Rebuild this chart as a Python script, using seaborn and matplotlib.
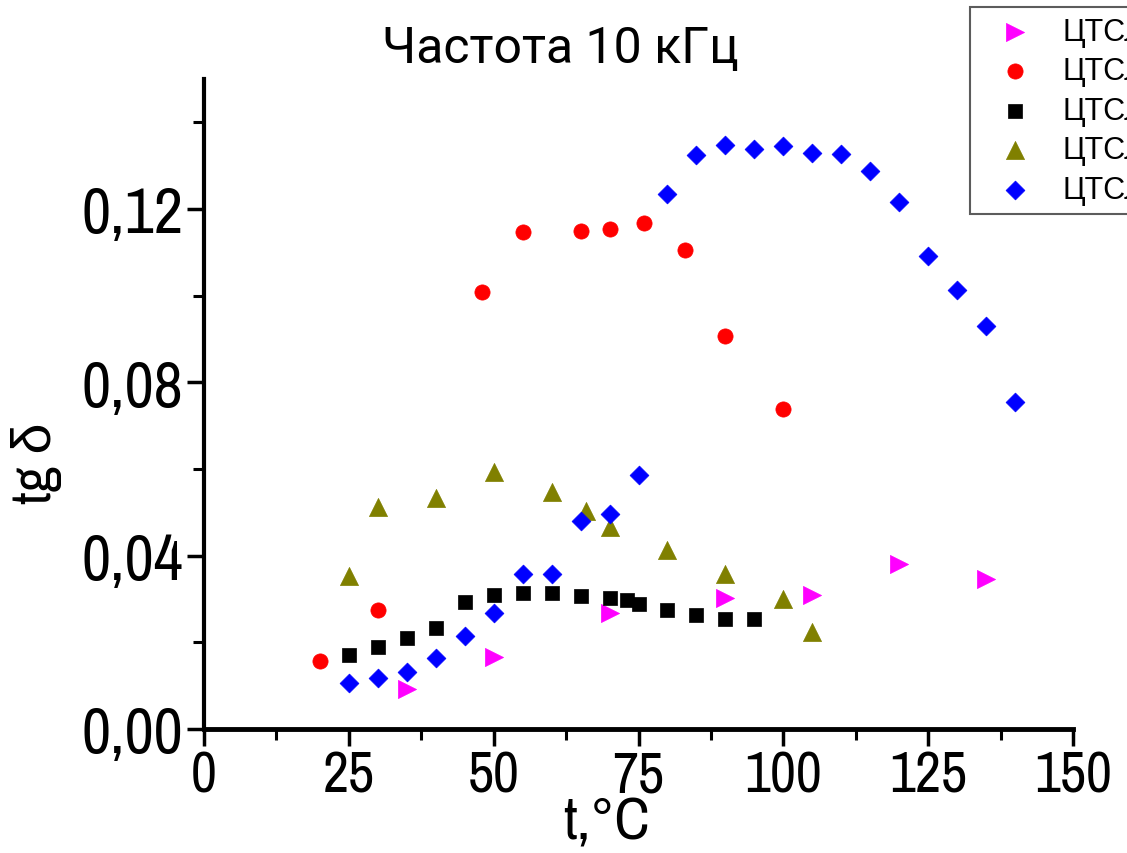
import matplotlib
matplotlib.use('Agg')
import matplotlib.pyplot as plt
import seaborn as sns
from matplotlib.ticker import MultipleLocator, FuncFormatter

# ---- data ----
series_labels = ['ЦТСЛ-1', 'ЦТСЛ-2', 'ЦТСЛ-3', 'ЦТСЛ-4', 'ЦТСЛ-5']

t_magenta = [35, 50, 70, 90, 105, 120, 135]
tg_magenta = [0.0092, 0.0166, 0.0268, 0.0302, 0.0309, 0.0380, 0.0347]

t_red = [20, 30, 48, 55, 65, 70, 76, 83, 90, 100]
tg_red = [0.0157, 0.0275, 0.1008, 0.1147, 0.1150, 0.1153, 0.1168, 0.1106, 0.0906, 0.0738]

t_black = [25, 30, 35, 40, 45, 50, 55, 60, 65, 70, 73, 75, 80, 85, 90, 95]
tg_black = [0.0170, 0.0190, 0.0210, 0.0232, 0.0293, 0.0310, 0.0313, 0.0313,
            0.0308, 0.0302, 0.0298, 0.0288, 0.0275, 0.0262, 0.0253, 0.0253]

t_olive = [25, 30, 40, 50, 60, 66, 70, 80, 90, 100, 105]
tg_olive = [0.0352, 0.0513, 0.0534, 0.0592, 0.0546, 0.0502, 0.0467, 0.0412, 0.0357, 0.0299, 0.0225]

t_blue = [25, 30, 35, 40, 45, 50, 55, 60, 65, 70, 75, 80, 85, 90, 95, 100,
          105, 110, 115, 120, 125, 130, 135, 140]
tg_blue = [0.0106, 0.0117, 0.0132, 0.0164, 0.0215, 0.0267, 0.0358, 0.0358,
           0.0481, 0.0497, 0.0587, 0.1234, 0.1324, 0.1348, 0.1339, 0.1346,
           0.1329, 0.1327, 0.1288, 0.1216, 0.1092, 0.1014, 0.0931, 0.0755]

x_ticks = [0, 25, 50, 75, 100, 125, 150]
y_ticks = [0.00, 0.04, 0.08, 0.12]

# ---- style ----
sns.set_theme(style='white')
plt.rcParams['font.family'] = ['Liberation Sans', 'DejaVu Sans']
for k in ['text.color', 'axes.labelcolor', 'xtick.color', 'ytick.color']:
    plt.rcParams[k] = 'black'

NARROW = ['Archivo Narrow', 'Liberation Sans', 'DejaVu Sans']

fig = plt.figure(figsize=(11.27, 8.54), dpi=100)
W, H = 1127, 854
ax = fig.add_axes([204 / W, 1 - 730 / H, (1073 - 204) / W, (730 - 80) / H])

styles = [
    (t_magenta, tg_magenta, '>', '#FF00FF', 170),
    (t_red, tg_red, 'o', '#FF0000', 120),
    (t_black, tg_black, 's', '#000000', 100),
    (t_olive, tg_olive, '^', '#808000', 170),
    (t_blue, tg_blue, 'D', '#0000FF', 92),
]
for lab, (xs, ys, mk, col, sz) in zip(series_labels, styles):
    sns.scatterplot(x=xs, y=ys, ax=ax, marker=mk, color=col, s=sz,
                    edgecolor=col, linewidth=0.5, label=lab, legend=False,
                    zorder=3)

ax.set_xlim(0, 150)
ax.set_ylim(0, 0.150)
ax.set_xticks(x_ticks)
ax.set_yticks(y_ticks)
ax.xaxis.set_minor_locator(MultipleLocator(12.5))
ax.yaxis.set_minor_locator(MultipleLocator(0.02))
ax.yaxis.set_major_formatter(FuncFormatter(lambda v, p: f'{v:.2f}'.replace('.', ',')))

for s in ['top', 'right']:
    ax.spines[s].set_visible(False)
ax.spines['left'].set_linewidth(3)
ax.spines['bottom'].set_linewidth(3.5)
ax.spines['left'].set_color('black')
ax.spines['bottom'].set_color('black')

ax.tick_params(axis='both', which='major', direction='out', length=12, width=2.5,
               color='black', bottom=True, left=True)
ax.tick_params(axis='both', which='minor', direction='out', length=8, width=2.2,
               color='black', bottom=True, left=True)
ax.tick_params(axis='y', which='major', labelsize=46, pad=3)
ax.tick_params(axis='x', which='major', labelsize=41, pad=3)
for lbl in ax.get_xticklabels() + ax.get_yticklabels():
    lbl.set_family(NARROW)

ax.set_xlabel('t,°C', fontsize=43, family=NARROW)
ax.xaxis.set_label_coords((607 - 204) / 869, -0.102)
ax.set_ylabel('tg δ', fontsize=40, family=NARROW)
ax.yaxis.set_label_coords((62 - 204) / 869, 0.41)

fig.text(0.497, 1 - 25 / H, 'Частота 10 кГц', ha='center', va='top',
         fontsize=36, family=['Roboto', 'DejaVu Sans'])

handles, labels = ax.get_legend_handles_labels()
leg = fig.legend(handles, labels, loc='upper left',
                 bbox_to_anchor=(970 / W, 1 - 8 / H), frameon=True,
                 fontsize=22, fancybox=False, edgecolor='#333333',
                 borderpad=0.32, labelspacing=0.31, handlelength=2.3,
                 handletextpad=0.42, borderaxespad=0)
leg.get_frame().set_linewidth(1.5)

fig.savefig('out.png', dpi=100)
